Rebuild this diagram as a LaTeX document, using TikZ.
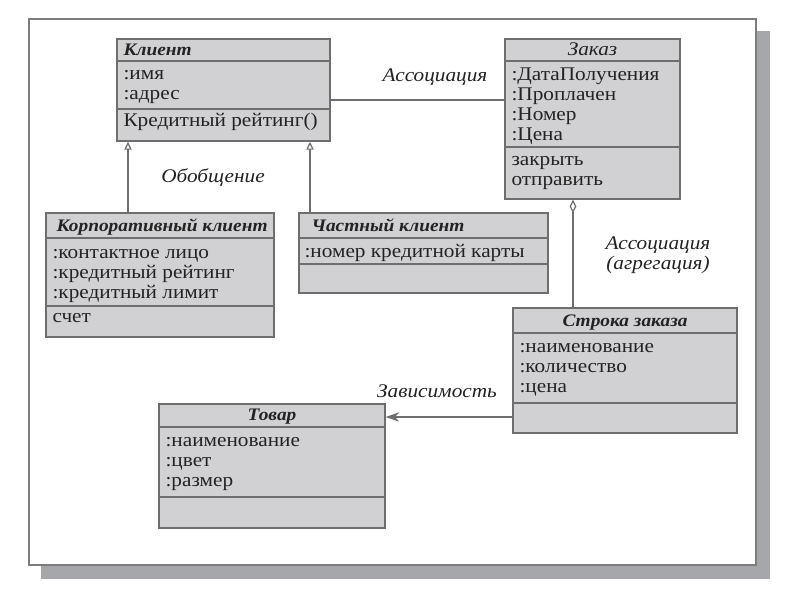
\documentclass[tikz,border=0pt]{standalone}
\usepackage{fontspec}
\setmainfont{Liberation Serif}[FakeStretch = 1.1]
\usetikzlibrary{arrows.meta}

\definecolor{boxfill}{RGB}{209,209,212}
\definecolor{boxline}{RGB}{110,110,110}
\definecolor{shadowgray}{RGB}{166,167,171}
\definecolor{framegray}{RGB}{125,125,125}
\definecolor{inkgray}{RGB}{35,35,35}

\newcommand{\umlsize}{\fontsize{14.5}{15}\selectfont}
\newcommand{\umltitlesize}{\fontsize{13.2}{15}\selectfont}

\tikzstyle{classbox} = [draw = boxline, fill = boxfill, line width = 1.1pt, inner sep = 0pt]
\tikzstyle{classname} = [font = \umltitlesize\bfseries\itshape, inner sep = 0pt, anchor = base west]
\tikzstyle{members} = [align = left, inner sep = 0pt, anchor = north west]
\tikzstyle{divider} = [draw = boxline, line width = 1pt]
\tikzstyle{relation} = [draw = boxline, line width = 0.9pt]
\tikzstyle{relname} = [font = \umlsize\itshape, inner sep = 0pt]

\begin{document}
\begin{tikzpicture}[x = 0.75pt, y = -0.75pt, font = \umlsize, text = inkgray]
        \useasboundingbox (0, 0) rectangle (800, 600);
        \fill [white] (0, 0) rectangle (800, 600);

        % sheet and its shadow
        \fill [shadowgray] (41, 31) rectangle (770, 579);
        \draw [framegray, line width = 1.2pt, fill = white] (29, 19) rectangle (756, 565);

        % classes
        \node [classbox, minimum width = 213*0.75pt, minimum height = 102*0.75pt] (klient) at (223.5, 90) {};
        \node [classbox, minimum width = 175*0.75pt, minimum height = 160*0.75pt] (zakaz) at (592.5, 119) {};
        \node [classbox, minimum width = 228*0.75pt, minimum height = 124*0.75pt] (korp) at (160, 275) {};
        \node [classbox, minimum width = 249*0.75pt, minimum height = 80*0.75pt] (chast) at (423.5, 253) {};
        \node [classbox, minimum width = 224*0.75pt, minimum height = 125*0.75pt] (stroka) at (625, 370.5) {};
        \node [classbox, minimum width = 226*0.75pt, minimum height = 124*0.75pt] (tovar) at (272, 466) {};

        \draw [divider] (klient.west |- 0,61) -- (klient.east |- 0,61);
        \draw [divider] (klient.west |- 0,109) -- (klient.east |- 0,109);
        \draw [divider] (zakaz.west |- 0,61) -- (zakaz.east |- 0,61);
        \draw [divider] (zakaz.west |- 0,147) -- (zakaz.east |- 0,147);
        \draw [divider] (korp.west |- 0,238) -- (korp.east |- 0,238);
        \draw [divider] (korp.west |- 0,306) -- (korp.east |- 0,306);
        \draw [divider] (chast.west |- 0,238) -- (chast.east |- 0,238);
        \draw [divider] (chast.west |- 0,264) -- (chast.east |- 0,264);
        \draw [divider] (stroka.west |- 0,333) -- (stroka.east |- 0,333);
        \draw [divider] (stroka.west |- 0,403) -- (stroka.east |- 0,403);
        \draw [divider] (tovar.west |- 0,427) -- (tovar.east |- 0,427);
        \draw [divider] (tovar.west |- 0,497) -- (tovar.east |- 0,497);

        % names
        \node [classname] (klient-n) at ([shift = {(7, 17)}]klient.north west) {Клиент};
        \node [classname, font = \umlsize\itshape, anchor = base] (zakaz-n) at ([shift = {(0, 17)}]zakaz.north) {Заказ};
        \node [classname] (korp-n) at ([shift = {(11, 19)}]korp.north west) {Корпоративный клиент};
        \node [classname] (chast-n) at ([shift = {(13, 19)}]chast.north west) {Частный клиент};
        \node [classname, anchor = base] (stroka-n) at ([shift = {(0, 19)}]stroka.north) {Строка заказа};
        \node [classname, anchor = base] (tovar-n) at ([shift = {(0, 17)}]tovar.north) {Товар};

        % attributes and operations
        \node [members] (klient-a) at ([shift = {(7, 27)}]klient.north west) {\strut:имя\\:адрес};
        \node [members] (klient-o) at ([shift = {(7, 74)}]klient.north west) {\strut Кредитный рейтинг()};
        \node [members] (zakaz-a) at ([shift = {(7, 28)}]zakaz.north west) {\strut:ДатаПолучения\\:Проплачен\\:Номер\\:Цена};
        \node [members] (zakaz-o) at ([shift = {(7, 113)}]zakaz.north west) {\strut закрыть\\отправить};
        \node [members] (korp-a) at ([shift = {(7, 32)}]korp.north west) {\strut:контактное лицо\\:кредитный рейтинг\\:кредитный лимит};
        \node [members] (korp-o) at ([shift = {(7, 96)}]korp.north west) {\strut счет};
        \node [members] (chast-a) at ([shift = {(6, 31)}]chast.north west) {\strut:номер кредитной карты};
        \node [members] (stroka-a) at ([shift = {(7, 31)}]stroka.north west) {\strut:наименование\\:количество\\:цена};
        \node [members] (tovar-a) at ([shift = {(7, 29)}]tovar.north west) {\strut:наименование\\:цвет\\:размер};

        % connectors
        \coordinate (gen1) at (128, 0);
        \coordinate (gen2) at (310, 0);
        \coordinate (assoc) at (0, 100);
        \coordinate (aggr) at (573, 0);
        \coordinate (dep) at (0, 417);

        \draw [relation] (klient.east |- assoc) -- (zakaz.west |- assoc);
        \draw [relation, -{Triangle[fill = white, length = 6pt, width = 5.5pt]}] (korp.north -| gen1) -- (klient.south -| gen1);
        \draw [relation, -{Triangle[fill = white, length = 6pt, width = 5.5pt]}] (chast.north -| gen2) -- (klient.south -| gen2);
        \draw [relation, {Diamond[fill = white, length = 10pt, width = 5pt]}-] (zakaz.south -| aggr) -- (stroka.north -| aggr);
        \draw [relation, -{Stealth[fill = boxline, length = 10pt, width = 7pt, inset = 3pt]}] (stroka.west |- dep) -- (tovar.east |- dep);

        % relation labels
        \node [relname] (assoc-l) at (435, 77) {Ассоциация};
        \node [relname] (gen-l) at (213, 178) {Обобщение};
        \node [relname, align = center] (aggr-l) at (658, 255) {Ассоциация\\(агрегация)};
        \node [relname] (dep-l) at (437, 391) {Зависимость};
    \end{tikzpicture}
\end{document}
